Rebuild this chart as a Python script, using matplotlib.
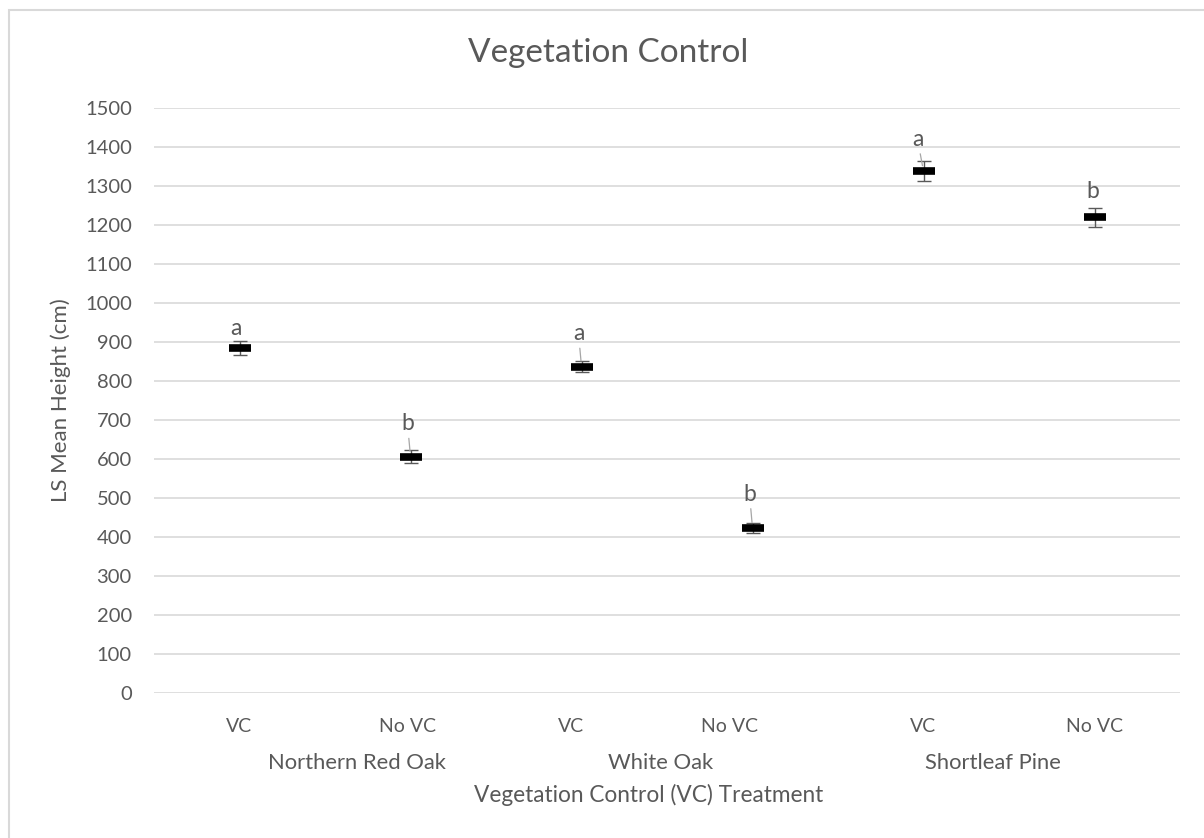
import matplotlib
matplotlib.use("Agg")
import matplotlib.pyplot as plt
from matplotlib.patches import Rectangle
from matplotlib.transforms import ScaledTranslation, blended_transform_factory

# ── DATA ──────────────────────────────────────────────
species = ["Northern Red Oak", "White Oak", "Shortleaf Pine"]
treatments = ["VC", "No VC", "VC", "No VC", "VC", "No VC"]
ls_means = [884, 606, 837, 423, 1338, 1220]
std_err = [18, 17, 13, 12, 25, 24]
letters = ["a", "b", "a", "b", "a", "b"]

# ── STYLE ─────────────────────────────────────────────
plt.rcParams["font.family"] = ["Lato", "DejaVu Sans"]
TXT = "#595959"
GRID = "#d9d9d9"
# label offsets from marker (pixels) and whether Excel drew a leader line
label_dx = [-3.5, -3, -3, -3, -6, -2]
label_dy = [20, 33, 33, 34, 32, 26]
leader = [False, True, True, True, True, False]
# Excel nudged some category labels sideways (pixels)
tick_dx = [0, -3, -11, -23, 0, 0]
# group label x positions (category units)
group_x = [0.687, 2.465, 4.406]

fig = plt.figure(figsize=(12.04, 8.38), dpi=100)
ax = fig.add_axes([154 / 1204, 1 - 693 / 838, 1026 / 1204, 585 / 838])

x = list(range(len(treatments)))
ax.errorbar(x, ls_means, yerr=std_err, fmt="none", ecolor=TXT,
            elinewidth=1.0, capsize=5, capthick=1.0, zorder=3)
ax.plot(x, ls_means, linestyle="none", marker="_", markersize=15.5,
        markeredgewidth=5.5, color="black", zorder=4)

# significance letters
for i, (v, lab) in enumerate(zip(ls_means, letters)):
    arrow = dict(arrowstyle="-", color="#a6a6a6", lw=0.9,
                 shrinkA=1, shrinkB=4) if leader[i] else None
    ax.annotate(lab, xy=(i, v), xytext=(label_dx[i], label_dy[i]),
                textcoords="offset pixels", ha="center", va="center",
                fontsize=16.5, color=TXT, arrowprops=arrow, zorder=5)

ax.set_xlim(-0.5, len(treatments) - 0.5)
ax.set_ylim(0, 1500)
ax.set_yticks(range(0, 1501, 100))
ax.set_xticks(x)
ax.set_xticklabels(treatments)
ax.tick_params(axis="x", length=0, labelsize=14, labelcolor=TXT, pad=18)
ax.tick_params(axis="y", length=0, labelsize=14.5, labelcolor=TXT, pad=16)
for lbl, dx in zip(ax.get_xticklabels(), tick_dx):
    lbl.set_transform(lbl.get_transform() +
                      ScaledTranslation(dx / 100, 0, fig.dpi_scale_trans))
ax.grid(axis="y", color=GRID, linewidth=1.2)
ax.set_axisbelow(True)
for s in ax.spines.values():
    s.set_visible(False)

# species group labels
group_tr = blended_transform_factory(ax.transData, fig.transFigure)
for gx, name in zip(group_x, species):
    ax.text(gx, 1 - 763 / 838, name, transform=group_tr,
            ha="center", va="center", fontsize=15.8, color=TXT)

ax.set_ylabel("LS Mean Height (cm)", fontsize=16, color=TXT, labelpad=10)
fig.text(649 / 1204, 1 - 795 / 838, "Vegetation Control (VC) Treatment",
         ha="center", va="center", fontsize=16.3, color=TXT)
fig.text(608 / 1204, 1 - 53 / 838, "Vegetation Control",
         ha="center", va="center", fontsize=24, color=TXT)

# chart-area border
fig.patches.append(Rectangle((9 / 1204, -0.1), 1.2, 1.1 - 10 / 838,
                             transform=fig.transFigure, fill=False,
                             edgecolor=GRID, linewidth=1.5))

fig.savefig("out.png", dpi=100)
